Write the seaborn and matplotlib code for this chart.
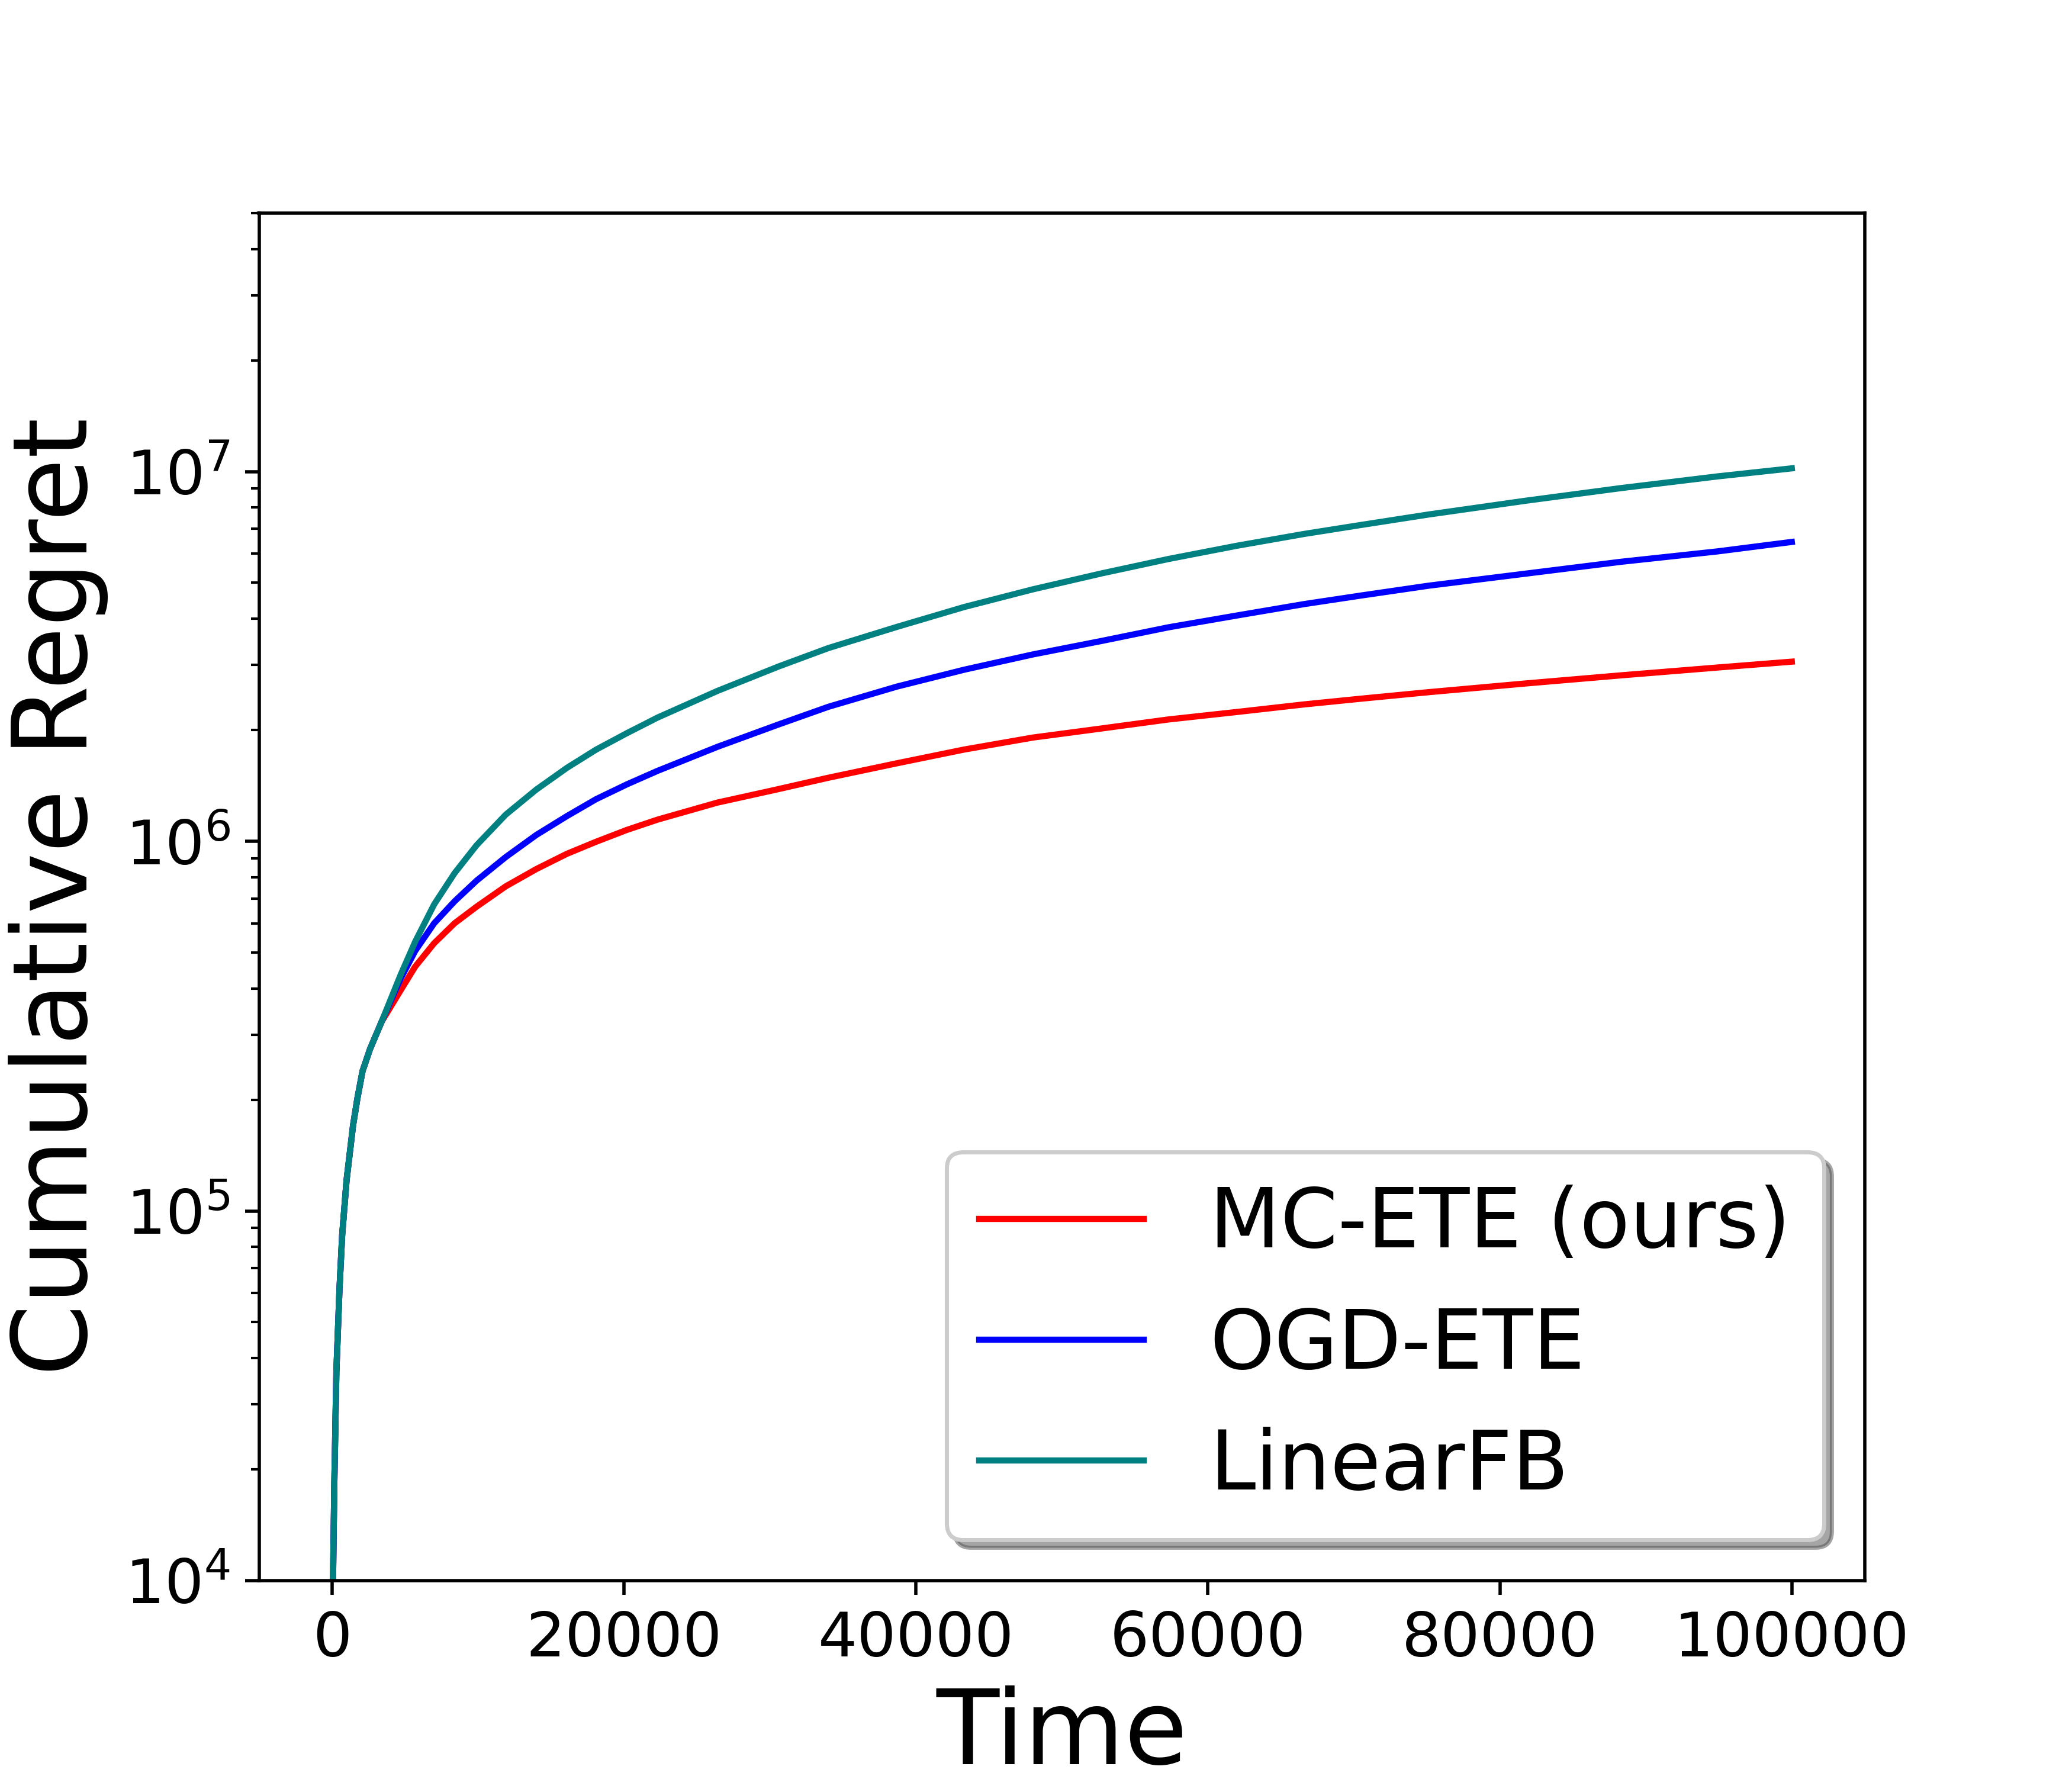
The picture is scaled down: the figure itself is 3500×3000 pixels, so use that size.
import matplotlib
matplotlib.use('Agg')
import matplotlib.pyplot as plt
import seaborn as sns

# shared exploration phase (all three methods identical here)
t_warmup = [0, 70, 162, 300, 511, 697, 998, 1440, 1744, 2093, 2604, 3400]
regret_warmup = [300, 1.0e4, 1.85e4, 3.67e4, 6.12e4, 8.6e4, 1.21e5, 1.70e5,
                 2.02e5, 2.39e5, 2.74e5, 3.25e5]

# after the curves split
t_after = [4700, 5700, 7000, 8400, 9900, 11900, 14000, 16100, 18100, 20200,
           22300, 26400, 30600, 34000, 38700, 43300, 48000, 52700, 57300,
           62000, 66600, 70500, 75100, 81700, 88300, 94900, 100000]

mc_ete = [3.95e5, 4.58e5, 5.3e5, 6.0e5, 6.65e5, 7.55e5, 8.41e5, 9.25e5,
          9.97e5, 1.073e6, 1.144e6, 1.272e6, 1.384e6, 1.485e6, 1.625e6,
          1.77e6, 1.907e6, 2.018e6, 2.135e6, 2.237e6, 2.345e6, 2.43e6,
          2.53e6, 2.67e6, 2.81e6, 2.95e6, 3.06e6]

ogd_ete = [4.25e5, 5.05e5, 6.0e5, 6.88e5, 7.82e5, 9.06e5, 1.04e6, 1.17e6,
           1.30e6, 1.425e6, 1.55e6, 1.80e6, 2.07e6, 2.31e6, 2.62e6, 2.91e6,
           3.20e6, 3.48e6, 3.79e6, 4.08e6, 4.38e6, 4.62e6, 4.91e6, 5.29e6,
           5.70e6, 6.08e6, 6.45e6]

linear_fb = [4.35e5, 5.35e5, 6.75e5, 8.2e5, 9.75e5, 1.18e6, 1.38e6, 1.58e6,
             1.77e6, 1.96e6, 2.16e6, 2.55e6, 2.97e6, 3.33e6, 3.80e6, 4.30e6,
             4.80e6, 5.30e6, 5.80e6, 6.30e6, 6.78e6, 7.17e6, 7.65e6, 8.33e6,
             9.02e6, 9.70e6, 1.02e7]

labels = ['MC-ETE (ours)', 'OGD-ETE', 'LinearFB']
colors = ['red', 'blue', 'teal']
series = [mc_ete, ogd_ete, linear_fb]

fig, ax = plt.subplots(figsize=(7, 6), dpi=500)

for label, color, values in zip(labels, colors, series):
    sns.lineplot(x=t_warmup + t_after, y=regret_warmup + values,
                 color=color, label=label, linewidth=1.5, ax=ax)

ax.set_yscale('log')
ax.set_ylim(1e4, 5e7)

ax.set_xlabel('Time', fontsize=25)
ax.set_ylabel('Cumulative Regret', fontsize=25)
ax.tick_params(labelsize=15)

ax.legend(fontsize=20, loc='lower right', shadow=True)

fig.savefig('out.png', dpi=500)
